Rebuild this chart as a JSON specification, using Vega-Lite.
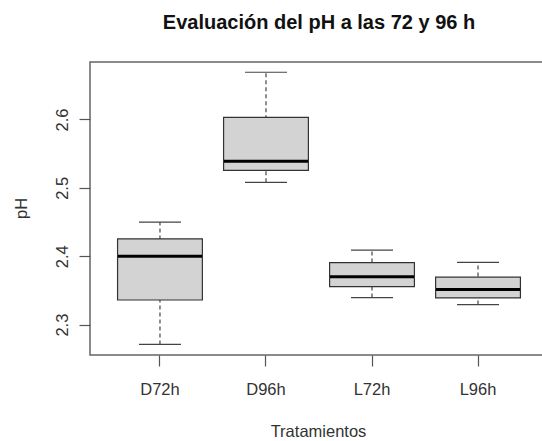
{
  "$schema": "https://vega.github.io/schema/vega-lite/v6.json",
  "autosize": {"type": "none"},
  "padding": {"left": 90, "top": 62, "right": 0, "bottom": 86},
  "width": 458,
  "height": 293,
  "background": "white",
  "title": {
    "text": "Evaluación del pH a las 72 y 96 h",
    "font": "Liberation Sans",
    "fontSize": 20,
    "fontWeight": "bold",
    "color": "#111111",
    "anchor": "middle",
    "baseline": "alphabetic",
    "offset": 13
  },
  "config": {
    "view": {"stroke": "#666666", "strokeWidth": 1.5},
    "tick": {"opacity": 1},
    "axis": {
      "labelFont": "Liberation Sans",
      "titleFont": "Liberation Sans",
      "labelFontSize": 16.5,
      "titleFontSize": 16.5,
      "titleFontWeight": "normal",
      "labelColor": "#333333",
      "titleColor": "#333333",
      "tickColor": "#555555",
      "tickWidth": 1.2,
      "tickSize": 11,
      "domain": false,
      "grid": false
    }
  },
  "data": {
    "values": [
      {"trt": "D72h", "lo": 2.271, "q1": 2.336, "med": 2.4, "q3": 2.4255, "hi": 2.45},
      {"trt": "D96h", "lo": 2.508, "q1": 2.5255, "med": 2.539, "q3": 2.603, "hi": 2.669},
      {"trt": "L72h", "lo": 2.3395, "q1": 2.3556, "med": 2.37, "q3": 2.3908, "hi": 2.409},
      {"trt": "L96h", "lo": 2.3293, "q1": 2.339, "med": 2.3512, "q3": 2.3694, "hi": 2.391}
    ]
  },
  "encoding": {
    "x": {
      "field": "trt",
      "type": "nominal",
      "sort": ["D72h", "D96h", "L72h", "L96h"],
      "scale": {"type": "band", "paddingInner": 0, "paddingOuter": 0.16},
      "axis": {
        "title": "Tratamientos",
        "labelAngle": 0,
        "labelBaseline": "alphabetic",
        "labelPadding": 28,
        "titleX": 228,
        "titleY": 81,
        "titleBaseline": "alphabetic",
        "titleAlign": "center"
      }
    }
  },
  "layer": [
    {
      "mark": {"type": "rule", "strokeDash": [4, 3], "color": "#444444", "strokeWidth": 1.2},
      "encoding": {
        "y": {
          "field": "lo",
          "type": "quantitative",
          "scale": {"domain": [2.2556, 2.684], "nice": false, "zero": false},
          "axis": {
            "title": "pH",
            "values": [2.3, 2.4, 2.5, 2.6],
            "format": ".1f",
            "labelAngle": -90,
            "labelAlign": "center",
            "labelBaseline": "alphabetic",
            "labelPadding": 12,
            "titleAngle": -90,
            "titleX": -64,
            "titleY": 146,
            "titleAlign": "center",
            "titleBaseline": "alphabetic"
          }
        },
        "y2": {"field": "hi"}
      }
    },
    {
      "mark": {"type": "tick", "color": "#444444", "size": 42, "thickness": 1.2},
      "encoding": {"y": {"field": "lo", "type": "quantitative"}}
    },
    {
      "mark": {"type": "tick", "color": "#444444", "size": 42, "thickness": 1.2},
      "encoding": {"y": {"field": "hi", "type": "quantitative"}}
    },
    {
      "mark": {"type": "bar", "fill": "#d3d3d3", "stroke": "#333333", "strokeWidth": 1.2, "width": {"band": 0.8}},
      "encoding": {
        "y": {"field": "q1", "type": "quantitative"},
        "y2": {"field": "q3"}
      }
    },
    {
      "mark": {"type": "tick", "color": "#000000", "size": 84, "thickness": 3},
      "encoding": {"y": {"field": "med", "type": "quantitative"}}
    }
  ]
}
